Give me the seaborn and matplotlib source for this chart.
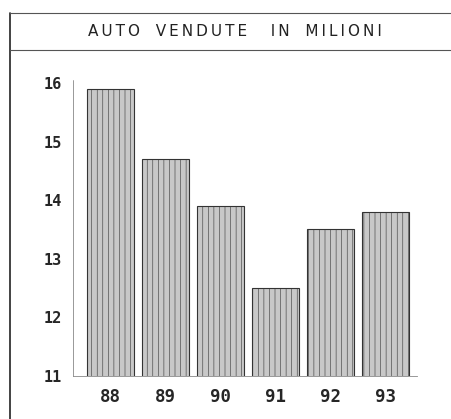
import matplotlib
matplotlib.use('Agg')
import matplotlib.pyplot as plt
import seaborn as sns
from matplotlib.lines import Line2D

# data
anni = ['88', '89', '90', '91', '92', '93']
auto_vendute = [15.9, 14.7, 13.9, 12.5, 13.5, 13.8]
y_ticks = [11, 12, 13, 14, 15, 16]

sns.set_theme(style='white')
plt.rcParams['font.family'] = ['DejaVu Sans']

fig = plt.figure(figsize=(4.51, 4.19), dpi=100)
ax = fig.add_axes([0.162, 0.103, 0.763, 0.706])

sns.barplot(x=anni, y=auto_vendute, color='#c8c8c8', width=0.85,
            edgecolor='#333333', linewidth=0.8, hatch='|||', ax=ax,
            saturation=1)
for p in ax.patches:
    p.set_hatch_linewidth(0.4)

ax.set_ylim(11, 16.05)
ax.set_xlim(-0.68, 5.57)
ax.set_yticks(y_ticks)
ax.set_xlabel('')
ax.set_ylabel('')

for s in ['top', 'right']:
    ax.spines[s].set_visible(False)
for s in ['left', 'bottom']:
    ax.spines[s].set_color('#888888')
    ax.spines[s].set_linewidth(0.6)
    ax.spines[s].set_linestyle((0, (1, 1)))

ax.tick_params(axis='y', length=4, width=0.6, color='#555555', pad=4)
ax.tick_params(axis='x', length=0, pad=9)
for lab in ax.get_yticklabels() + ax.get_xticklabels():
    lab.set_fontfamily('DejaVu Sans Mono')
    lab.set_fontweight('bold')
    lab.set_fontsize(11)
for lab in ax.get_xticklabels():
    lab.set_fontsize(12.5)

# outer frame and title band
fig.add_artist(Line2D([0.022, 0.022], [0.0, 0.969], color='#222222', lw=1.2))
fig.add_artist(Line2D([0.022, 1.0], [0.969, 0.969], color='#555555', lw=0.8))
fig.add_artist(Line2D([0.022, 1.0], [0.881, 0.881], color='#555555', lw=0.8))

titolo = 'AUTO VENDUTE  IN MILIONI'
spaced = '\u2009'.join(titolo).replace('\u2009 \u2009', '\u2009\u2009  ')
fig.text(0.52, 0.924, spaced, ha='center', va='center', fontsize=11,
         color='#222222')

fig.savefig('out.png', dpi=100)
